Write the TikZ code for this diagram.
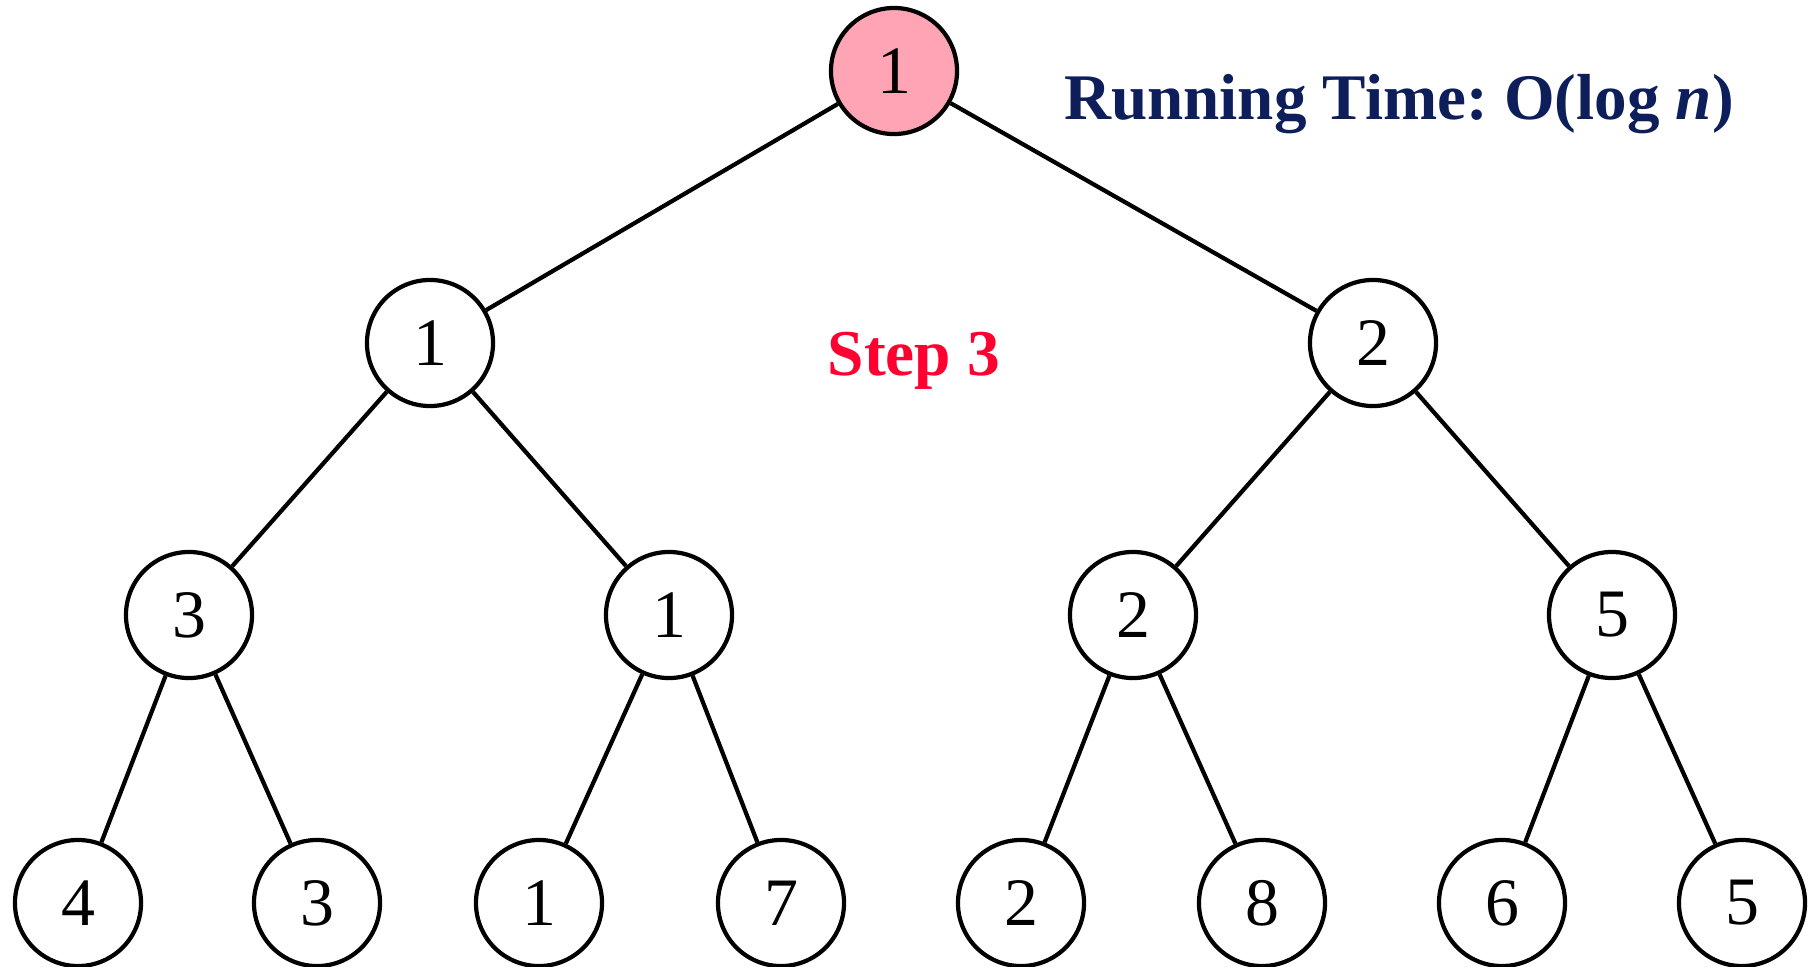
\documentclass[tikz,border=0pt]{standalone}
\usepackage{fontspec}
\setmainfont{Liberation Serif}
\frenchspacing
\definecolor{rootpink}{HTML}{FFA4B4}
\definecolor{stepred}{HTML}{FF0030}
\definecolor{titlenavy}{HTML}{0D1E5A}
\begin{document}
\begin{tikzpicture}[x=0.01cm,y=-0.01cm,
  tnode/.style={circle,draw=black,line width=1.2pt,fill=white,minimum size=1.26cm,inner sep=0pt,
    font=\fontsize{19.3}{20}\selectfont},
  tedge/.style={line width=1.2pt,black}]
\useasboundingbox (0,0) rectangle (1815,966);
% nodes
\node[tnode,fill=rootpink] (r) at (894,71) {1};
\node[tnode] (a) at (430,343) {1};
\node[tnode] (b) at (1373,343) {2};
\node[tnode] (aa) at (189,615) {3};
\node[tnode] (ab) at (669,615) {1};
\node[tnode] (ba) at (1133,615) {2};
\node[tnode] (bb) at (1612,615) {5};
\node[tnode] (l1) at (78,903) {4};
\node[tnode] (l2) at (317,903) {3};
\node[tnode] (l3) at (539,903) {1};
\node[tnode] (l4) at (781,903) {7};
\node[tnode] (l5) at (1021,903) {2};
\node[tnode] (l6) at (1262,903) {8};
\node[tnode] (l7) at (1502,903) {6};
\node[tnode] (l8) at (1742,903) {5};
% edges
\draw[tedge] (r) -- (a);
\draw[tedge] (r) -- (b);
\draw[tedge] (a) -- (aa);
\draw[tedge] (a) -- (ab);
\draw[tedge] (b) -- (ba);
\draw[tedge] (b) -- (bb);
\draw[tedge] (aa) -- (l1);
\draw[tedge] (aa) -- (l2);
\draw[tedge] (ab) -- (l3);
\draw[tedge] (ab) -- (l4);
\draw[tedge] (ba) -- (l5);
\draw[tedge] (ba) -- (l6);
\draw[tedge] (bb) -- (l7);
\draw[tedge] (bb) -- (l8);
% labels
\node[anchor=base,text=titlenavy,font=\fontsize{18.5}{20}\selectfont\bfseries] (title) at (1399,119) {Running Time: O(log \textit{n})};
\node[anchor=base,text=stepred,font=\fontsize{18.6}{20}\selectfont\bfseries] (step) at (914,375) {Step 3};
\end{tikzpicture}
\end{document}
